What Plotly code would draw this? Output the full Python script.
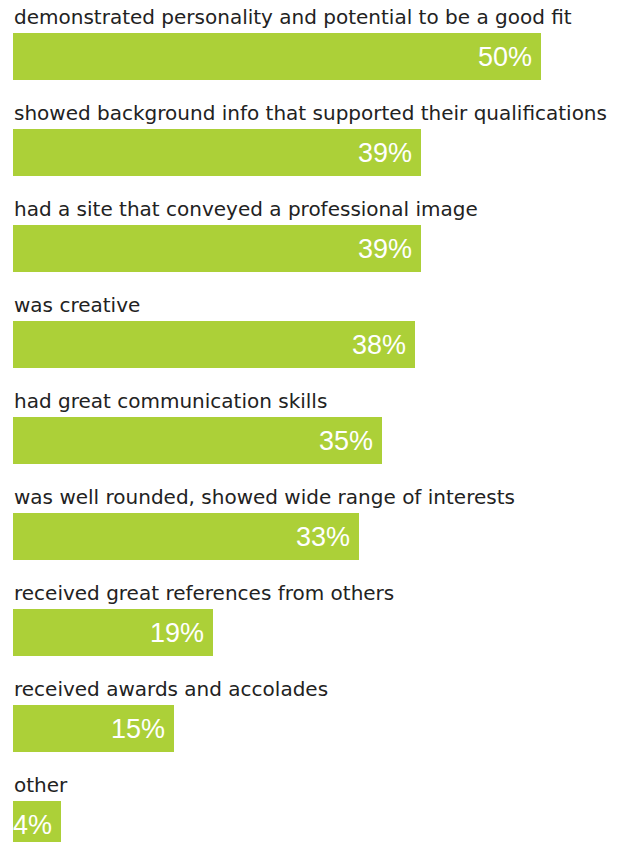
import plotly.graph_objects as go

categories = [
    "demonstrated personality and potential to be a good fit",
    "showed background info that supported their qualifications",
    "had a site that conveyed a professional image",
    "was creative",
    "had great communication skills",
    "was well rounded, showed wide range of interests",
    "received great references from others",
    "received awards and accolades",
    "other",
]
values = [50, 38.6, 38.6, 38.1, 34.9, 32.8, 18.9, 15.2, 4.5]
value_labels = ["50%", "39%", "39%", "38%", "35%", "33%", "19%", "15%", "4%"]

W, H = 620, 842
left = 13
px_per_unit = 528 / 50.0
row_px = 96.0
first_center = 56.5

xmax = (W - left) / px_per_unit
ytop = -first_center / row_px
ybot = ytop + H / row_px

ys = list(range(len(categories)))
color = "#acd038"

fig = go.Figure()
fig.add_trace(go.Bar(
    x=values, y=ys, orientation="h",
    marker=dict(color=color, line=dict(width=0)),
    width=47 / row_px,
    hoverinfo="skip",
))

for i, (c, v, t) in enumerate(zip(categories, values, value_labels)):
    fig.add_annotation(x=0, y=i, text=c, xanchor="left", yanchor="middle",
                       xshift=-1, yshift=40, showarrow=False,
                       font=dict(family="DejaVu Sans, sans-serif", size=20, color="#222222"))
    fig.add_annotation(x=v, y=i, text=t, xanchor="right", yanchor="middle",
                       xshift=-7, yshift=0, showarrow=False,
                       font=dict(family="Liberation Sans, Arial, sans-serif", size=27, color="white"))

fig.update_layout(
    width=W, height=H,
    margin=dict(l=left, r=0, t=0, b=0),
    paper_bgcolor="white", plot_bgcolor="white",
    showlegend=False,
    xaxis=dict(range=[0, xmax], visible=False, fixedrange=True),
    yaxis=dict(range=[ybot, ytop], visible=False, fixedrange=True),
    bargap=0,
)

fig.write_html("out.html", config={"displayModeBar": False},
               post_script="document.body.style.margin='0';document.body.style.overflow='hidden';")
